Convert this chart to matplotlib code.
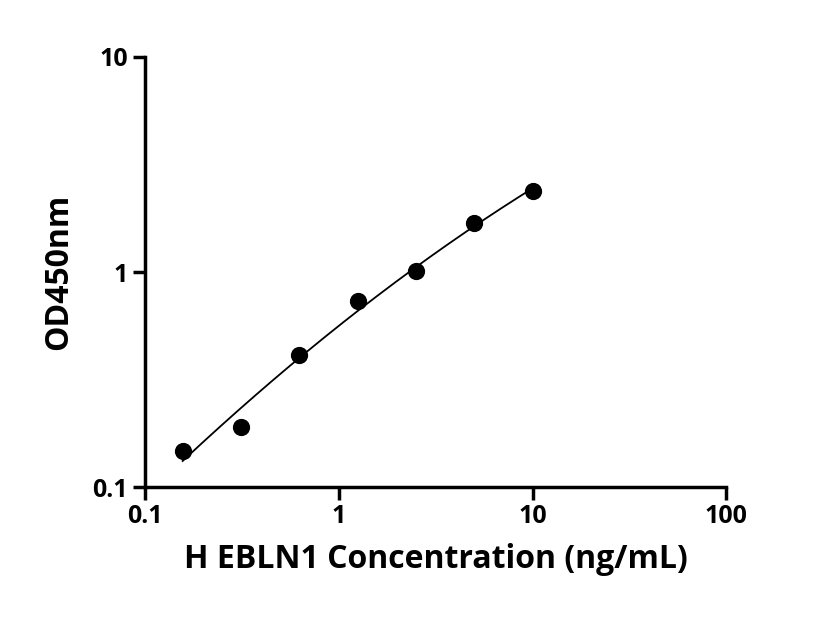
import numpy as np
import matplotlib
matplotlib.use("Agg")
import matplotlib.pyplot as plt

conc = [0.156, 0.3125, 0.625, 1.25, 2.5, 5, 10]
od = [0.147, 0.190, 0.411, 0.733, 1.01, 1.69, 2.38]
xticks = [0.1, 1, 10, 100]
xticklabels = ["0.1", "1", "10", "100"]
yticks = [0.1, 1, 10]
yticklabels = ["0.1", "1", "10"]

plt.rcParams['font.family'] = ['Open Sans', 'DejaVu Sans']
plt.rcParams['font.weight'] = 'bold'

fig = plt.figure(figsize=(8.16, 6.4), dpi=100)
ax = fig.add_axes([0.178, 0.239, 0.712, 0.672])
ax.set_xscale('log'); ax.set_yscale('log')
ax.set_xlim(0.1, 100); ax.set_ylim(0.1, 10)

lx, ly = np.log10(conc), np.log10(od)
p = np.polyfit(lx, ly, 2)
xs = np.linspace(lx[0], lx[-1], 200)
ax.plot(10**xs, 10**np.polyval(p, xs), color='black', lw=1.3)
ax.scatter(conc, od, s=130, color='black', zorder=3)

ax.set_xticks(xticks); ax.set_xticklabels(xticklabels)
ax.set_yticks(yticks); ax.set_yticklabels(yticklabels)
ax.minorticks_off()
for s in ['top', 'right']:
    ax.spines[s].set_visible(False)
for s in ['left', 'bottom']:
    ax.spines[s].set_linewidth(2.5)
ax.tick_params(width=2.5, length=9, labelsize=18)
for t in ax.get_xticklabels() + ax.get_yticklabels():
    t.set_fontweight('bold')
ax.set_xlabel("H EBLN1 Concentration (ng/mL)", fontsize=23, fontweight='bold', labelpad=10)
ax.set_ylabel("OD450nm", fontsize=23, fontweight='bold', labelpad=12)
fig.savefig("out.png", dpi=100)
